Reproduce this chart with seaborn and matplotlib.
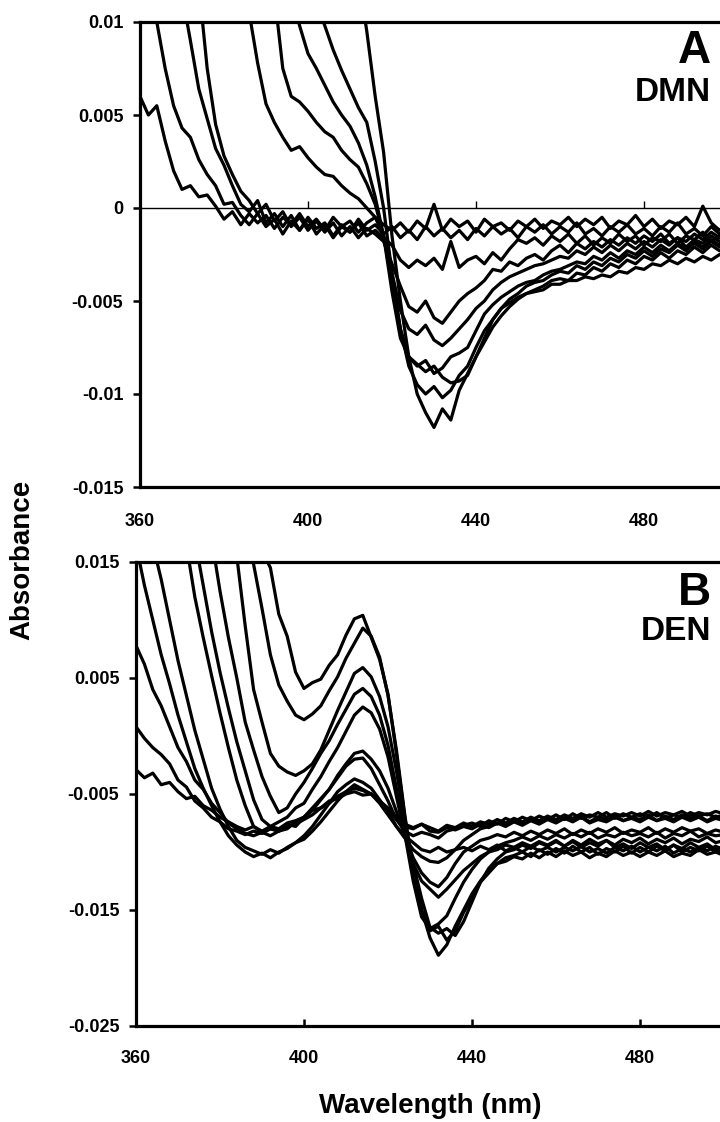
import numpy as np
import pandas as pd
import matplotlib
matplotlib.use("Agg")
import matplotlib.pyplot as plt
import seaborn as sns

# wavelength grid (nm), 360..500 every 2 nm
wavelength = list(range(360, 501, 2))

# ---------------- Panel A (DMN) difference spectra, values in mAbs ----------------
dmn_1 = [6.0, 5.0, 5.5, 3.6, 2.0, 1.0, 1.2, 0.6, 0.7, 0.1,
         -0.6, -0.2, -0.9, -0.3, -0.8, -0.4, -1.1, -0.5, -0.9, -0.3,
         -1.0, -0.6, -1.2, -0.5, -1.0, -0.7, -1.3, -0.8, -0.5, -0.9,
         -1.2, -0.8, -1.3, -0.7, -1.1, 0.2, -1.2, -0.6, -1.0, -0.7,
         -1.3, -0.6, -1.0, -0.8, -1.2, -0.7, -1.0, -0.6, -1.1, -0.7,
         -0.9, -0.5, -1.0, -0.6, -0.9, -0.5, -1.1, -0.7, -0.9, -0.4,
         -1.0, -0.6, -1.1, -0.7, -0.9, -0.5, -1.0, 0.1, -0.8, -1.2, -0.9]
dmn_2 = [12, 11, 10, 7.5, 5.5, 4.3, 3.8, 2.6, 1.8, 1.2,
         0.2, 0.3, -0.4, -0.9, -0.3, -1.0, -0.6, -1.4, -0.7, -1.2,
         -0.5, -1.1, -0.8, -1.5, -0.9, -1.3, -0.6, -1.2, -0.9, -1.4,
         -1.0, -1.6, -1.2, -1.7, -1.0, -1.5, -1.1, -1.6, -1.2, -1.7,
         -1.1, -1.5, -1.0, -1.4, -1.1, -1.6, -1.0, -1.3, -0.9, -1.4,
         -1.0, -1.3, -0.8, -1.4, -1.1, -1.5, -1.0, -1.3, -0.9, -1.4,
         -1.1, -1.5, -1.0, -1.3, -0.8, -1.4, -1.1, -1.5, -1.0, -1.4, -1.2]
dmn_3 = [25, 22, 19, 16.5, 14, 11.5, 9.0, 6.4, 4.8, 3.2,
         2.3, 1.2, 0.2, -0.2, 0.4, -0.8, -0.3, -1.0, -0.4, -1.2,
         -0.6, -1.4, -0.9, -1.6, -1.0, -1.3, -0.8, -1.5, -1.2, -1.6,
         -2.0, -2.8, -3.2, -2.8, -3.1, -2.7, -3.3, -1.8, -3.2, -2.8,
         -2.6, -3.0, -2.4, -2.8, -2.2, -1.7, -1.9, -1.6, -2.0, -1.5,
         -1.8, -1.4, -1.9, -1.5, -2.0, -1.6, -1.9, -1.4, -1.8, -1.5,
         -2.0, -1.6, -1.8, -1.4, -1.9, -1.5, -1.7, -1.3, -1.8, -1.5, -1.7]
dmn_4 = [35, 32, 29, 26, 23, 20, 16, 12, 7.5, 4.5,
         2.8, 1.8, 0.9, 0.4, -0.3, 0.2, -0.7, -0.2, -1.0, -0.5,
         -1.2, -0.7, -1.3, -0.8, -1.5, -1.0, -1.6, -1.1, -1.4, -1.8,
         -3.0, -4.2, -5.3, -5.6, -5.0, -5.9, -6.2, -5.6, -5.0, -4.6,
         -4.3, -3.9, -3.3, -3.4, -2.9, -3.1, -2.7, -2.5, -2.8, -2.3,
         -2.0, -2.4, -1.9, -2.2, -1.8, -2.1, -1.7, -2.0, -1.6, -1.9,
         -1.5, -1.8, -1.4, -1.9, -1.6, -1.8, -1.4, -1.7, -1.3, -1.6, -1.4]
dmn_5 = [60, 55, 50, 45, 40, 36, 32, 28, 24, 20,
         17, 14, 12, 10.5, 7.8, 5.6, 4.6, 3.8, 3.1, 3.3,
         2.7, 2.2, 1.8, 1.7, 1.2, 0.8, 0.5, 0.0, -0.5, -1.5,
         -3.5, -5.5, -6.5, -6.8, -6.3, -7.1, -7.4, -7.0, -6.5, -6.0,
         -5.4, -5.0, -4.4, -4.0, -3.7, -3.5, -3.3, -3.1, -3.0, -2.8,
         -2.6, -2.7, -2.3, -2.5, -2.1, -2.4, -2.0, -2.3, -1.9, -2.2,
         -1.8, -2.1, -1.7, -2.0, -1.6, -2.1, -1.7, -1.9, -1.5, -1.8, -1.6]
dmn_6 = [90, 84, 78, 72, 66, 60, 54, 48, 43, 38,
         33, 28, 24, 20, 17, 14, 11.5, 7.5, 6.0, 5.7,
         5.2, 4.6, 4.1, 3.8, 3.1, 2.6, 2.2, 1.3, 0.2, -1.5,
         -4.0, -6.5, -8.0, -8.5, -8.2, -8.9, -8.6, -8.0, -7.8, -7.5,
         -6.6, -5.7, -5.2, -4.8, -4.5, -4.2, -4.0, -3.9, -3.6, -3.4,
         -3.3, -3.1, -2.9, -3.0, -2.6, -2.8, -2.4, -2.7, -2.3, -2.5,
         -2.1, -2.4, -2.0, -2.3, -1.9, -2.2, -1.8, -2.1, -1.7, -2.0, -1.8]
dmn_7 = [120, 112, 104, 96, 88, 80, 72, 65, 58, 52,
         46, 40, 35, 30, 26, 22, 18, 14, 11.5, 9.8,
         8.3, 7.5, 6.6, 5.7, 5.0, 4.4, 3.5, 2.3, 0.6, -1.5,
         -4.5, -7.0, -8.0, -8.4, -8.8, -8.5, -9.1, -9.4, -9.3, -9.0,
         -8.0, -7.0, -6.0, -5.4, -5.1, -4.8, -4.6, -4.5, -4.4, -4.1,
         -4.1, -3.9, -3.9, -3.7, -3.8, -3.6, -3.7, -3.4, -3.5, -3.2,
         -3.3, -3.0, -3.1, -2.8, -3.0, -2.7, -2.9, -2.6, -2.8, -2.5, -2.6]
dmn_8 = [150, 140, 130, 120, 110, 100, 92, 84, 76, 69,
         62, 55, 49, 43, 38, 33, 28, 24, 20, 16,
         13, 11, 9.8, 8.5, 7.4, 6.4, 5.4, 4.6, 2.5, 0.0,
         -3.5, -6.5, -8.5, -9.5, -10.0, -9.6, -10.2, -9.8, -9.0, -8.5,
         -7.5, -6.6, -6.0, -5.4, -4.9, -4.6, -4.2, -4.0, -3.9, -3.6,
         -3.4, -3.5, -3.1, -3.3, -2.9, -3.1, -2.7, -2.9, -2.5, -2.7,
         -2.3, -2.6, -2.2, -2.4, -2.0, -2.3, -1.9, -2.2, -1.8, -2.1, -1.9]
dmn_9 = [200, 190, 180, 170, 160, 150, 140, 130, 120, 110,
         100, 90, 80, 70, 62, 55, 48, 42, 37, 33,
         30, 27, 24, 21, 18, 15.5, 12.5, 9.5, 6.0, 3.0,
         -1.5, -5.0, -8.0, -10.0, -11.0, -11.8, -10.8, -11.4, -9.8, -8.9,
         -8.0, -7.2, -6.4, -5.8, -5.3, -4.9, -4.6, -4.4, -4.2, -3.9,
         -3.8, -3.9, -3.5, -3.6, -3.2, -3.4, -3.0, -3.2, -2.8, -3.0,
         -2.6, -2.8, -2.4, -2.7, -2.3, -2.5, -2.1, -2.4, -2.0, -2.3, -2.1]

# ---------------- Panel B (DEN) difference spectra, values in mAbs ----------------
den_1 = [60, 56, 52, 48, 44, 40, 37, 34, 31, 28,
         25.5, 23, 21, 19, 17.5, 16, 14.5, 10.5, 8.6, 5.5,
         4.1, 4.6, 4.9, 6.1, 7.0, 8.7, 10.1, 10.4, 8.5, 6.6,
         3.6, -1.5, -7.0, -11.5, -15.0, -17.4, -18.9, -18.0, -16.4, -15.0,
         -13.6, -12.5, -11.6, -11.0, -10.5, -10.3, -10.0, -10.4, -9.8, -10.2,
         -9.7, -10.1, -9.5, -10.0, -9.6, -10.2, -9.7, -10.0, -9.5, -10.1,
         -9.6, -10.0, -9.5, -9.9, -9.4, -10.0, -9.6, -9.9, -9.5, -10.0, -9.7]
den_2 = [50, 47, 44, 41, 38, 35, 32.5, 30, 28, 26,
         23, 21, 19, 17, 14.8, 11.0, 7.0, 4.4, 3.0, 1.8,
         1.4, 1.9, 2.6, 3.9, 5.1, 6.7, 8.0, 9.3, 8.6, 6.8,
         3.5, -1.2, -6.8, -11.6, -15.0, -16.8, -16.4, -17.6, -16.8, -15.2,
         -14.0, -12.6, -11.8, -11.0, -10.8, -10.4, -10.6, -10.1, -10.5, -10.0,
         -10.4, -9.9, -10.3, -10.0, -10.5, -10.1, -10.4, -9.9, -10.3, -10.0,
         -10.4, -10.0, -10.3, -9.9, -10.4, -10.1, -10.3, -9.8, -10.2, -10.0, -10.3]
den_3 = [42, 40, 38, 36, 34, 32, 30, 28, 26, 24,
         22, 19.5, 15.5, 9.5, 4.0, 1.2, -1.5, -2.6, -3.1, -3.4,
         -3.0, -2.4, -1.2, 0.5, 2.2, 3.8, 5.4, 5.9, 5.1, 3.4,
         0.8, -3.0, -7.5, -11.0, -14.0, -16.5, -17.0, -16.6, -17.2, -16.0,
         -14.3, -12.6, -11.4, -10.6, -10.0, -9.8, -9.4, -9.7, -9.2, -9.5,
         -9.1, -9.5, -9.0, -9.4, -8.9, -9.3, -9.0, -9.4, -8.9, -9.2,
         -8.8, -9.3, -8.9, -9.2, -8.8, -9.3, -8.9, -9.1, -8.7, -9.2, -9.0]
den_4 = [36, 34, 32, 30, 28, 26, 24, 22, 19.5, 17,
         12.5, 8.5, 5.0, 1.2, -1.2, -3.5, -5.2, -6.6, -6.2, -5.0,
         -4.0, -2.8, -1.5, -0.4, 1.0, 2.3, 3.6, 4.1, 3.4, 1.8,
         -0.8, -4.5, -8.5, -12.5, -15.6, -16.6, -16.2, -15.5, -14.0, -12.6,
         -11.5, -10.6, -10.0, -9.5, -9.2, -9.0, -8.7, -9.0, -8.6, -8.9,
         -8.5, -8.8, -8.4, -8.7, -8.3, -8.8, -8.5, -8.7, -8.3, -8.6,
         -8.4, -8.7, -8.3, -8.8, -8.4, -8.6, -8.2, -8.7, -8.4, -8.6, -8.5]
den_5 = [32, 30, 28, 26, 24, 22, 20, 17, 13, 9,
         5.5, 2.4, -0.5, -3.0, -5.5, -7.2, -7.8, -7.4, -7.0, -6.2,
         -5.8, -4.6, -3.5, -2.2, -1.0, 0.4, 1.8, 2.5, 2.0, 0.6,
         -1.8, -5.2, -8.6, -11.0, -12.5, -13.2, -13.9, -13.2, -12.4, -11.6,
         -11.0, -10.4, -10.0, -9.8, -9.4, -9.6, -9.2, -9.5, -9.1, -9.4,
         -9.0, -9.5, -9.1, -9.6, -9.2, -9.5, -9.0, -9.6, -9.3, -9.7,
         -9.2, -9.6, -9.3, -9.8, -9.4, -9.7, -9.2, -9.6, -9.3, -9.8, -9.5]
den_6 = [28, 26, 24, 22, 20.5, 18.5, 16.5, 12, 8.5, 5.2,
         2.0, -1.0, -3.8, -6.0, -7.8, -8.3, -8.0, -8.2, -7.6, -7.8,
         -7.0, -6.4, -5.5, -4.6, -3.4, -2.4, -1.5, -1.3, -2.0, -3.0,
         -4.5, -6.5, -8.6, -10.5, -11.8, -12.6, -13.0, -12.2, -11.0, -10.0,
         -9.5, -9.0, -8.8, -8.5, -8.7, -8.3, -8.6, -8.2, -8.5, -8.1,
         -8.4, -8.0, -8.5, -8.1, -8.4, -8.0, -8.3, -7.9, -8.4, -8.1,
         -8.3, -7.9, -8.4, -8.0, -8.3, -7.9, -8.2, -8.0, -8.4, -8.1, -8.3]
den_7 = [22, 19.5, 16.5, 13.5, 10.0, 6.5, 3.5, 0.5, -2.0, -4.5,
         -6.3, -7.8, -9.0, -9.6, -9.9, -10.2, -9.8, -10.1, -9.6, -9.2,
         -8.6, -7.8, -6.8, -5.8, -4.8, -4.2, -3.7, -4.0, -4.5, -5.5,
         -6.5, -7.8, -8.8, -9.8, -10.4, -10.8, -10.9, -10.5, -9.8, -9.0,
         -8.5, -8.0, -7.8, -7.5, -7.7, -7.3, -7.6, -7.2, -7.5, -7.1,
         -7.4, -7.0, -7.3, -6.9, -7.4, -7.0, -7.2, -6.8, -7.3, -7.0,
         -7.2, -6.8, -7.3, -6.9, -7.2, -6.8, -7.1, -6.9, -7.3, -6.9, -7.1]
den_8 = [16.5, 13.0, 10.0, 7.0, 4.5, 1.8, -0.5, -2.8, -4.5, -6.0,
         -7.4, -8.6, -9.4, -10.0, -10.4, -10.1, -10.5, -10.0, -9.7, -9.2,
         -8.9, -8.2, -7.4, -6.5, -5.6, -4.8, -4.2, -4.6, -5.0, -5.8,
         -6.8, -7.8, -8.6, -9.2, -9.8, -10.0, -9.6, -10.0, -9.8, -9.6,
         -9.9, -9.5, -9.8, -9.4, -9.9, -9.6, -10.0, -9.5, -9.9, -9.6,
         -10.0, -9.6, -9.9, -9.5, -10.0, -9.7, -10.1, -9.6, -9.9, -9.5,
         -10.0, -9.6, -9.9, -9.5, -10.1, -9.7, -10.0, -9.6, -9.9, -9.5, -9.8]
den_9 = [7.8, 6.2, 4.0, 2.6, 0.8, -1.0, -2.2, -3.8, -4.6, -5.8,
         -6.6, -7.5, -8.0, -8.4, -8.6, -8.3, -8.6, -8.2, -8.0, -7.4,
         -7.0, -6.2, -5.4, -4.6, -3.6, -2.6, -2.0, -1.9, -2.8, -4.2,
         -5.6, -7.2, -8.2, -8.6, -8.3, -8.5, -8.8, -8.2, -8.0, -7.7,
         -7.5, -7.8, -7.3, -7.6, -7.1, -7.4, -7.0, -7.3, -6.9, -7.2,
         -6.8, -7.2, -6.7, -7.1, -6.8, -7.0, -6.6, -7.1, -6.7, -7.0,
         -6.7, -7.0, -6.6, -7.1, -6.8, -7.0, -6.6, -6.9, -6.7, -7.0, -6.8]
den_10 = [0.8, -0.2, -1.0, -1.6, -2.4, -3.8, -4.4, -5.6, -6.2, -7.0,
          -7.4, -8.0, -8.2, -8.5, -8.2, -8.4, -8.0, -8.2, -7.8, -7.6,
          -7.2, -6.8, -6.2, -5.8, -5.2, -4.8, -4.5, -4.7, -5.0, -5.6,
          -6.2, -7.0, -7.6, -7.9, -7.6, -7.9, -8.2, -7.7, -7.9, -7.5,
          -7.8, -7.4, -7.6, -7.2, -7.5, -7.1, -7.4, -7.0, -7.3, -6.9,
          -7.2, -6.8, -7.1, -6.7, -7.0, -6.6, -7.0, -6.7, -6.9, -6.6,
          -6.9, -6.5, -6.9, -6.6, -6.8, -6.5, -6.9, -6.6, -6.8, -6.5, -6.7]
den_11 = [-2.9, -3.6, -3.2, -4.2, -4.0, -4.8, -5.4, -5.2, -6.0, -6.4,
          -7.0, -7.4, -7.8, -8.1, -7.8, -8.2, -7.8, -8.0, -7.5, -7.3,
          -7.0, -6.4, -6.2, -5.6, -5.4, -5.0, -4.8, -5.1, -5.0, -5.6,
          -6.4, -7.2, -7.8, -8.0, -7.6, -8.2, -8.3, -7.9, -8.1, -7.8,
          -8.0, -7.6, -7.9, -7.5, -7.8, -7.4, -7.7, -7.3, -7.6, -7.2,
          -7.5, -7.1, -7.4, -7.0, -7.5, -7.2, -7.4, -7.0, -7.3, -7.1,
          -7.4, -7.0, -7.3, -7.1, -7.4, -7.0, -7.3, -7.0, -7.4, -7.1, -7.3]

dmn_curves = [dmn_1, dmn_2, dmn_3, dmn_4, dmn_5, dmn_6, dmn_7, dmn_8, dmn_9]
den_curves = [den_1, den_2, den_3, den_4, den_5, den_6, den_7, den_8, den_9, den_10, den_11]

x_ticks = [360, 400, 440, 480]
x_tick_labels = ["360", "400", "440", "480"]
a_y_ticks = [0.01, 0.005, 0.0, -0.005, -0.01, -0.015]
a_y_tick_labels = ["0.01", "0.005", "0", "-0.005", "-0.01", "-0.015"]
b_y_ticks = [0.015, 0.005, -0.005, -0.015, -0.025]
b_y_tick_labels = ["0.015", "0.005", "-0.005", "-0.015", "-0.025"]


def long_df(curves):
    frames = []
    for k, vals in enumerate(curves):
        frames.append(pd.DataFrame({"wl": wavelength,
                                    "absorb": np.asarray(vals, dtype=float) * 1e-3,
                                    "curve": k}))
    return pd.concat(frames, ignore_index=True)


sns.set_style("white")
plt.rcParams["font.family"] = ["Liberation Sans", "DejaVu Sans"]
plt.rcParams["font.weight"] = "bold"
for key in ["text.color", "axes.labelcolor", "xtick.color", "ytick.color", "axes.edgecolor"]:
    plt.rcParams[key] = "black"

W, H = 720, 1122
fig = plt.figure(figsize=(W / 100, H / 100), dpi=100)

SPINE_LW = 2.3
LINE_LW = 2.3
TICK_FS = 13


def style_axes(ax, yticks, ylabels, ylim, bottom_ticks):
    ax.set_xlim(360, 520)
    ax.set_ylim(*ylim)
    ax.set_xticks(x_ticks)
    ax.set_xticklabels(x_tick_labels, fontsize=TICK_FS, fontweight="bold", color="black")
    ax.set_yticks(yticks)
    ax.set_yticklabels(ylabels, fontsize=TICK_FS, fontweight="bold", color="black")
    ax.set_xlabel("")
    ax.set_ylabel("")
    for side in ["left", "top", "bottom"]:
        ax.spines[side].set_linewidth(SPINE_LW)
        ax.spines[side].set_color("black")
    ax.spines["right"].set_visible(False)
    ax.tick_params(axis="y", direction="out", length=5, width=1.8, pad=7, left=True,
                   color="black")
    if bottom_ticks:
        ax.tick_params(axis="x", direction="in", length=5, width=1.8, pad=17, bottom=True,
                       color="black")
    else:
        ax.tick_params(axis="x", length=0, pad=19, bottom=True)


# ---- Panel A ----
axA = fig.add_axes([140 / W, 1 - 487 / H, 672 / W, 465 / H])
sns.lineplot(data=long_df(dmn_curves), x="wl", y="absorb", units="curve",
             estimator=None, color="black", lw=LINE_LW, ax=axA, legend=False, sort=False)
style_axes(axA, a_y_ticks, a_y_tick_labels, (-0.015, 0.01), bottom_ticks=False)

# zero axis line with its own ticks (Excel-style crossing axis)
axZ = axA.twiny()
axZ.set_xlim(360, 520)
for side in ["top", "left", "right"]:
    axZ.spines[side].set_visible(False)
axZ.spines["bottom"].set_position(("data", 0))
axZ.spines["bottom"].set_linewidth(1.0)
axZ.spines["bottom"].set_color("black")
axZ.xaxis.set_ticks_position("bottom")
axZ.set_xticks(x_ticks)
axZ.tick_params(axis="x", direction="in", length=5, width=1.0, color="black",
                labelbottom=False, labeltop=False)
axZ.patch.set_visible(False)

# ---- Panel B ----
axB = fig.add_axes([136 / W, 1 - 1026 / H, 672 / W, 464 / H])
sns.lineplot(data=long_df(den_curves), x="wl", y="absorb", units="curve",
             estimator=None, color="black", lw=LINE_LW, ax=axB, legend=False, sort=False)
style_axes(axB, b_y_ticks, b_y_tick_labels, (-0.025, 0.015), bottom_ticks=True)

# panel labels
fig.text(711 / W, 1 - 29 / H, "A", ha="right", va="top", fontsize=33, fontweight="bold", color="black")
fig.text(711 / W, 1 - 77 / H, "DMN", ha="right", va="top", fontsize=24, fontweight="bold", color="black")
fig.text(711 / W, 1 - 571 / H, "B", ha="right", va="top", fontsize=33, fontweight="bold", color="black")
fig.text(711 / W, 1 - 616 / H, "DEN", ha="right", va="top", fontsize=24, fontweight="bold", color="black")

# shared axis titles
fig.text(22 / W, 1 - 560 / H, "Absorbance", rotation=90, ha="center", va="center",
         fontsize=20, fontweight="bold", color="black")
fig.text(430 / W, 1 - 1106 / H, "Wavelength (nm)", ha="center", va="center",
         fontsize=20, fontweight="bold", color="black")

fig.savefig("out.png", dpi=100)
